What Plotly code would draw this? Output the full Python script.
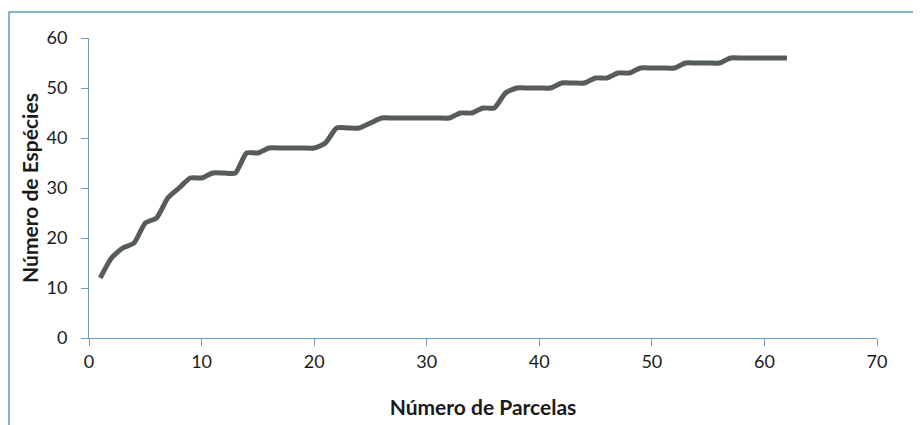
import plotly.graph_objects as go

parcelas = list(range(1, 63))
especies = [12, 16, 18, 19, 23, 24, 28, 30, 32, 32,
            33, 33, 33, 37, 37, 38, 38, 38, 38, 38,
            39, 42, 42, 42, 43, 44, 44, 44, 44, 44,
            44, 44, 45, 45, 46, 46, 49, 50, 50, 50,
            50, 51, 51, 51, 52, 52, 53, 53, 54, 54,
            54, 54, 55, 55, 55, 55, 56, 56, 56, 56,
            56, 56]

x_ticks = [0, 10, 20, 30, 40, 50, 60, 70]
y_ticks = [0, 10, 20, 30, 40, 50, 60]

# page body adds an 8px offset
OFF = 8
W, H = 921 - OFF, 425 - OFF
L, R, T, B = 89 - OFF, 44, 38 - OFF, 87
pw, ph = W - L - R, H - T - B

axis_col = "#6a9ec0"
font_fam = "Lato, 'Open Sans', sans-serif"

fig = go.Figure()
fig.add_trace(go.Scatter(
    x=parcelas, y=especies, mode="lines",
    line=dict(color="#565c5c", width=5, shape="spline", smoothing=0.6),
    showlegend=False,
))

fig.update_layout(
    width=W, height=H,
    margin=dict(l=L, r=R, t=T, b=B, autoexpand=False),
    paper_bgcolor="white", plot_bgcolor="white",
    font=dict(family=font_fam, size=18, color="#1a1a1a"),
    xaxis=dict(
        range=[0, 70], tickvals=x_ticks, ticktext=[str(v) for v in x_ticks],
        showgrid=False, zeroline=False, showline=True, linecolor=axis_col, linewidth=1,
        ticks="outside", ticklen=7, tickcolor=axis_col, automargin=False,
        title=dict(text="<b>Número de Parcelas</b>", font=dict(size=21), standoff=29),
    ),
    yaxis=dict(
        range=[0, 60], tickvals=y_ticks, ticktext=[str(v) for v in y_ticks],
        showgrid=False, zeroline=False, showline=True, linecolor=axis_col, linewidth=1,
        ticks="outside", ticklen=7, tickcolor=axis_col, automargin=False,
        ticklabelstandoff=10,
        title=dict(text="<b>Número de Espécies</b>", font=dict(size=21), standoff=2),
    ),
    shapes=[dict(
        type="rect", xref="paper", yref="paper",
        x0=(9 - OFF - L) / pw, x1=(W + 20 - L) / pw,
        y0=-(H + 20 - T - ph) / ph, y1=1 + (T - (12 - OFF)) / ph,
        line=dict(color="#5f9cb5", width=1.5), fillcolor="rgba(0,0,0,0)", layer="below",
    )],
)

fig.write_html("out.html")
